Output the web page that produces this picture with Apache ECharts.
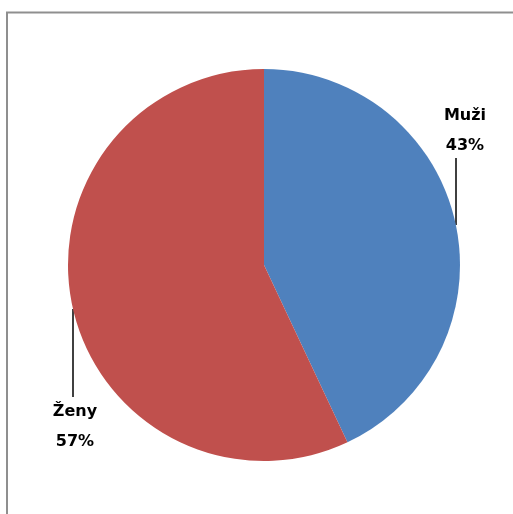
<!DOCTYPE html>
<html>
<head>
<meta charset="utf-8">
<script src="https://cdn.jsdelivr.net/npm/echarts@6/dist/echarts.min.js"></script>
<style>html,body{margin:0;padding:0;background:#fff;}#c{width:513px;height:514px;}</style>
</head>
<body>
<div id="c"></div>
<script>
const categories = ['Muži', 'Ženy'];
const values = [43, 57];
const colors = ['#4F81BD', '#C0504D'];

const labelPos = [
  { x: 465, y: 131, line: [[456, 225], [456, 190], [456, 158]] },
  { x: 75, y: 427, line: [[73, 309], [73, 350], [73, 397]] }
];

const chart = echarts.init(document.getElementById('c'), null, { renderer: 'canvas' });
chart.setOption({
  animation: false,
  backgroundColor: '#ffffff',
  graphic: [{
    type: 'rect',
    shape: { x: 7, y: 12.5, width: 600, height: 600 },
    style: { fill: 'none', stroke: '#8f8f8f', lineWidth: 2 },
    silent: true
  }],
  series: [{
    type: 'pie',
    center: [264, 265],
    radius: 196,
    startAngle: 90,
    clockwise: true,
    avoidLabelOverlap: false,
    itemStyle: { borderWidth: 0 },
    label: {
      show: true,
      position: 'outside',
      alignTo: 'none',
      overflow: 'none',
      formatter: p => p.name + '\n' + Math.round(p.percent) + '%',
      fontFamily: 'DejaVu Sans',
      fontWeight: 'bold',
      fontSize: 16,
      lineHeight: 30,
      color: '#000',
      align: 'center',
      verticalAlign: 'middle'
    },
    labelLine: { show: true, lineStyle: { color: '#000', width: 1.5 } },
    labelLayout: function (params) {
      const lp = labelPos[params.dataIndex];
      return { x: lp.x, y: lp.y, align: 'center', verticalAlign: 'middle', hideOverlap: false, labelLinePoints: lp.line };
    },
    emphasis: { disabled: true },
    data: categories.map((n, i) => ({ name: n, value: values[i], itemStyle: { color: colors[i] } }))
  }]
});
</script>
</body>
</html>
